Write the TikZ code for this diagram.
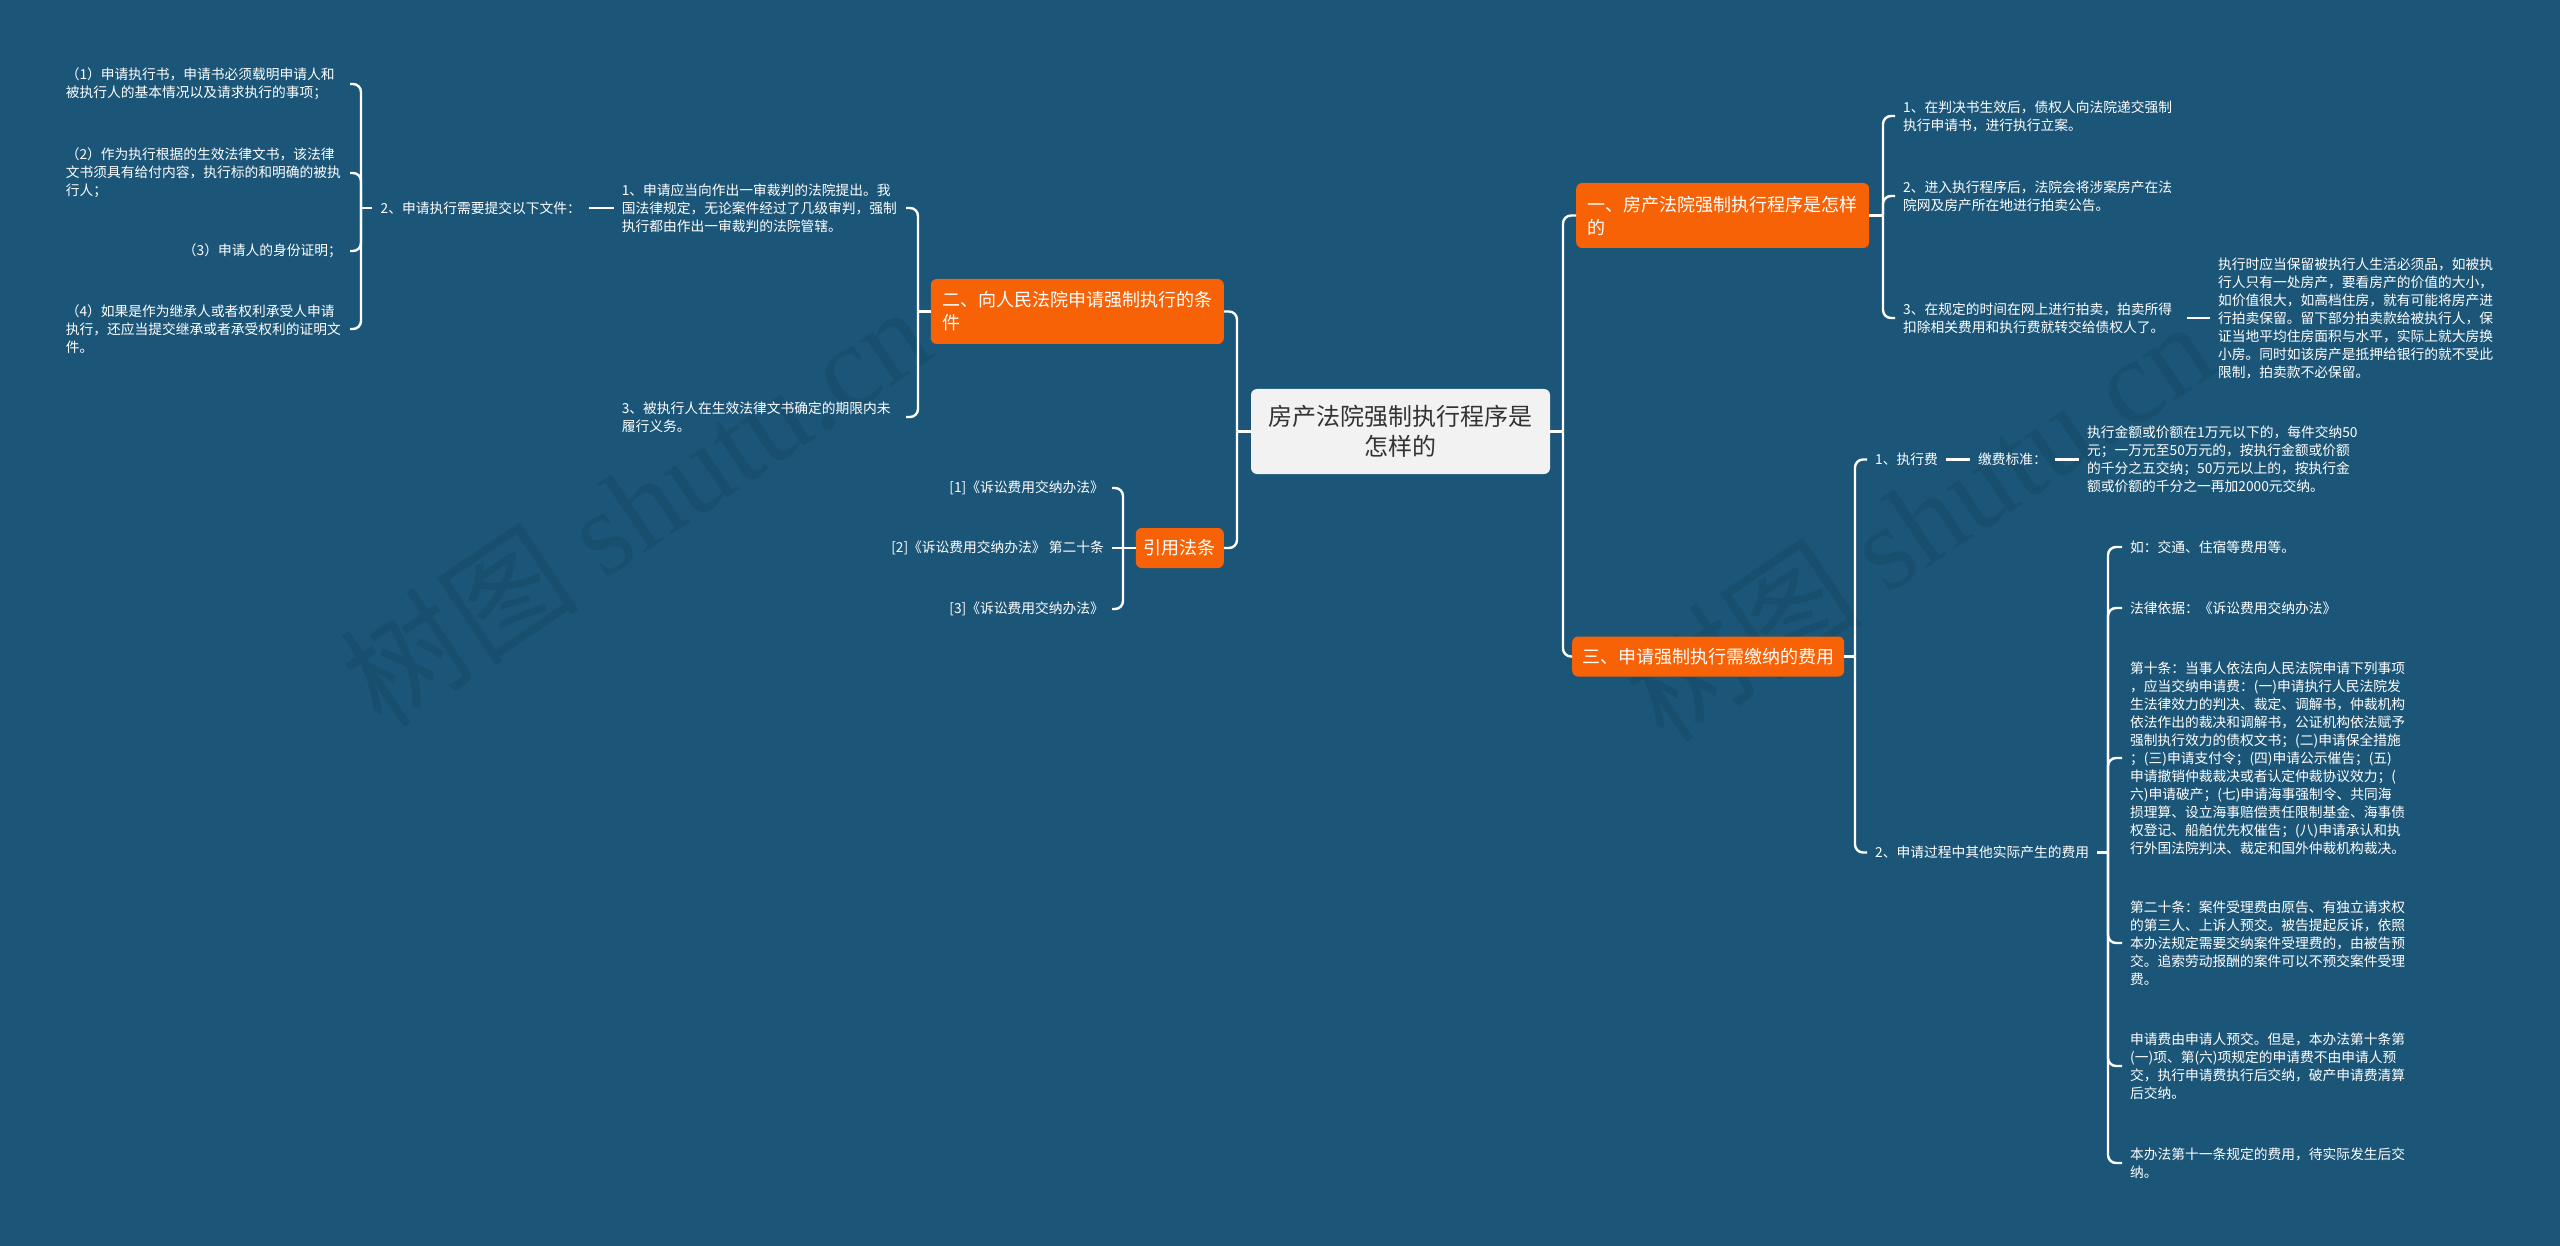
\documentclass[tikz,border=0pt]{standalone}
\usepackage{fontspec}
\setmainfont{Noto Sans CJK SC}
\newfontfamily\wmlatin{Liberation Serif}
\usetikzlibrary{calc}
\definecolor{bgc}{HTML}{1B5679}
\definecolor{org}{HTML}{F86206}
\definecolor{rootc}{HTML}{F2F2F2}
\definecolor{roott}{HTML}{333333}
\begin{document}
\begin{tikzpicture}[x=1pt,y=-1pt,
  conn/.style={draw=white,line width=2.4,rounded corners=8},
  txt/.style={text=white,font=\fontsize{13.75}{18}\selectfont,align=left,inner xsep=8,inner ysep=2},
  wrap/.style={txt,text width=276},
  topic/.style={fill=org,text=white,rounded corners=6,font=\fontsize{18}{23}\selectfont,align=left,inner xsep=11.5,inner ysep=0,minimum height=40},
  wm/.style={text=black,opacity=0.09,rotate=34,font=\fontsize{120}{120}\selectfont}
]
\fill[bgc] (0,0) rectangle (2560,1246);
\useasboundingbox (0,0) rectangle (2560,1246);

% watermarks
\node[wm] (wm1) at (635,505) {树图 {\wmlatin shutu.cn}};
\node[wm] (wm2) at (1918,520) {树图 {\wmlatin shutu.cn}};

% root
\node[fill=rootc,text=roott,rounded corners=6,minimum width=299,minimum height=85,align=center,font=\fontsize{24}{30}\selectfont,inner sep=0] (root) at (1400.5,431.5) {房产法院强制执行程序是\\怎样的};

% main topics
\node[topic,anchor=west,minimum height=65] (n1) at (1576,215.5) {一、房产法院强制执行程序是怎样\\的};
\node[topic,anchor=west,inner xsep=10] (n3) at (1572,656.5) {三、申请强制执行需缴纳的费用};
\node[topic,anchor=east,minimum height=65] (n2) at (1224,311.5) {二、向人民法院申请强制执行的条\\件};
\node[topic,anchor=east,inner xsep=8] (n4) at (1224,548) {引用法条};

\coordinate (TR) at (1563,431.5);
\coordinate (TL) at (1237,431.5);
\draw[conn] (root.east) -- (TR);
\draw[conn] (TR) |- (n1.west);
\draw[conn] (TR) |- (n3.west);
\draw[conn] (root.west) -- (TL);
\draw[conn] (TL) |- (n2.east);
\draw[conn] (TL) |- (n4.east);

% n1 children
\node[wrap,anchor=west] (a1) at (1895,116) {1、在判决书生效后，债权人向法院递交强制\\执行申请书，进行执行立案。};
\node[wrap,anchor=west] (a2) at (1895,196) {2、进入执行程序后，法院会将涉案房产在法\\院网及房产所在地进行拍卖公告。};
\node[wrap,anchor=west] (a3) at (1895,318) {3、在规定的时间在网上进行拍卖，拍卖所得\\扣除相关费用和执行费就转交给债权人了。};
\node[wrap,anchor=west] (a4) at (2210,318) {执行时应当保留被执行人生活必须品，如被执\\行人只有一处房产，要看房产的价值的大小，\\如价值很大，如高档住房，就有可能将房产进\\行拍卖保留。留下部分拍卖款给被执行人，保\\证当地平均住房面积与水平，实际上就大房换\\小房。同时如该房产是抵押给银行的就不受此\\限制，拍卖款不必保留。};
\coordinate (T1) at (1883,215.5);
\draw[conn] (n1.east) -- (T1);
\draw[conn] (T1) |- (a1.west);
\draw[conn] (T1) |- (a2.west);
\draw[conn] (T1) |- (a3.west);
\draw[conn] (a3.east) -- (a4.west);

% n3 children
\node[txt,anchor=west] (b1) at (1867,459.5) {1、执行费};
\node[txt,anchor=west] (b2) at (1970,459.5) {缴费标准：};
\node[wrap,anchor=west] (b3) at (2079,459.5) {执行金额或价额在1万元以下的，每件交纳50\\元；一万元至50万元的，按执行金额或价额\\的千分之五交纳；50万元以上的，按执行金\\额或价额的千分之一再加2000元交纳。};
\node[txt,anchor=west] (b4) at (1867,852.5) {2、申请过程中其他实际产生的费用};
\coordinate (T3) at (1855,656.5);
\draw[conn] (n3.east) -- (T3);
\draw[conn] (T3) |- (b1.west);
\draw[conn] (T3) |- (b4.west);
\draw[conn] (b1.east) -- (b2.west);
\draw[conn] (b2.east) -- (b3.west);

\node[txt,anchor=west] (c1) at (2122,547) {如：交通、住宿等费用等。};
\node[txt,anchor=west] (c2) at (2122,608) {法律依据：《诉讼费用交纳办法》};
\node[wrap,anchor=west] (c3) at (2122,758) {第十条：当事人依法向人民法院申请下列事项\\，应当交纳申请费：(一)申请执行人民法院发\\生法律效力的判决、裁定、调解书，仲裁机构\\依法作出的裁决和调解书，公证机构依法赋予\\强制执行效力的债权文书；(二)申请保全措施\\；(三)申请支付令；(四)申请公示催告；(五)\\申请撤销仲裁裁决或者认定仲裁协议效力；(\\六)申请破产；(七)申请海事强制令、共同海\\损理算、设立海事赔偿责任限制基金、海事债\\权登记、船舶优先权催告；(八)申请承认和执\\行外国法院判决、裁定和国外仲裁机构裁决。};
\node[wrap,anchor=west] (c4) at (2122,943) {第二十条：案件受理费由原告、有独立请求权\\的第三人、上诉人预交。被告提起反诉，依照\\本办法规定需要交纳案件受理费的，由被告预\\交。追索劳动报酬的案件可以不预交案件受理\\费。};
\node[wrap,anchor=west] (c5) at (2122,1066) {申请费由申请人预交。但是，本办法第十条第\\(一)项、第(六)项规定的申请费不由申请人预\\交，执行申请费执行后交纳，破产申请费清算\\后交纳。};
\node[wrap,anchor=west] (c6) at (2122,1163) {本办法第十一条规定的费用，待实际发生后交\\纳。};
\coordinate (T4) at (2108,852.5);
\draw[conn] (b4.east) -- (T4);
\foreach \c in {c1,c2,c3,c4,c5,c6} \draw[conn] (T4) |- (\c.west);

% n2 children
\node[wrap,anchor=east] (d1) at (906,208) {1、申请应当向作出一审裁判的法院提出。我\\国法律规定，无论案件经过了几级审判，强制\\执行都由作出一审裁判的法院管辖。};
\node[wrap,anchor=east] (d3) at (906,417) {3、被执行人在生效法律文书确定的期限内未\\履行义务。};
\coordinate (T2) at (918,311.5);
\draw[conn] (n2.west) -- (T2);
\draw[conn] (T2) |- (d1.east);
\draw[conn] (T2) |- (d3.east);

\node[txt,anchor=east] (d2) at (589,208) {2、申请执行需要提交以下文件：};
\draw[conn] (d1.west) -- (d2.east);

\node[wrap,anchor=east] (e1) at (350,84) {（1）申请执行书，申请书必须载明申请人和\\被执行人的基本情况以及请求执行的事项；};
\node[wrap,anchor=east] (e2) at (350,173) {（2）作为执行根据的生效法律文书，该法律\\文书须具有给付内容，执行标的和明确的被执\\行人；};
\node[txt,anchor=east] (e3) at (350,251) {（3）申请人的身份证明；};
\node[wrap,anchor=east] (e4) at (350,329) {（4）如果是作为继承人或者权利承受人申请\\执行，还应当提交继承或者承受权利的证明文\\件。};
\coordinate (T5) at (361,208);
\draw[conn] (d2.west) -- (T5);
\foreach \e in {e1,e2,e3,e4} \draw[conn] (T5) |- (\e.east);

% n4 children
\node[txt,anchor=east] (f1) at (1112,488) {[1]《诉讼费用交纳办法》};
\node[txt,anchor=east] (f2) at (1112,548) {[2]《诉讼费用交纳办法》 第二十条};
\node[txt,anchor=east] (f3) at (1112,609) {[3]《诉讼费用交纳办法》};
\coordinate (T6) at (1123,548);
\draw[conn] (n4.west) -- (T6);
\draw[conn] (T6) |- (f1.east);
\draw[conn] (T6) -- (f2.east);
\draw[conn] (T6) |- (f3.east);
\end{tikzpicture}
\end{document}
